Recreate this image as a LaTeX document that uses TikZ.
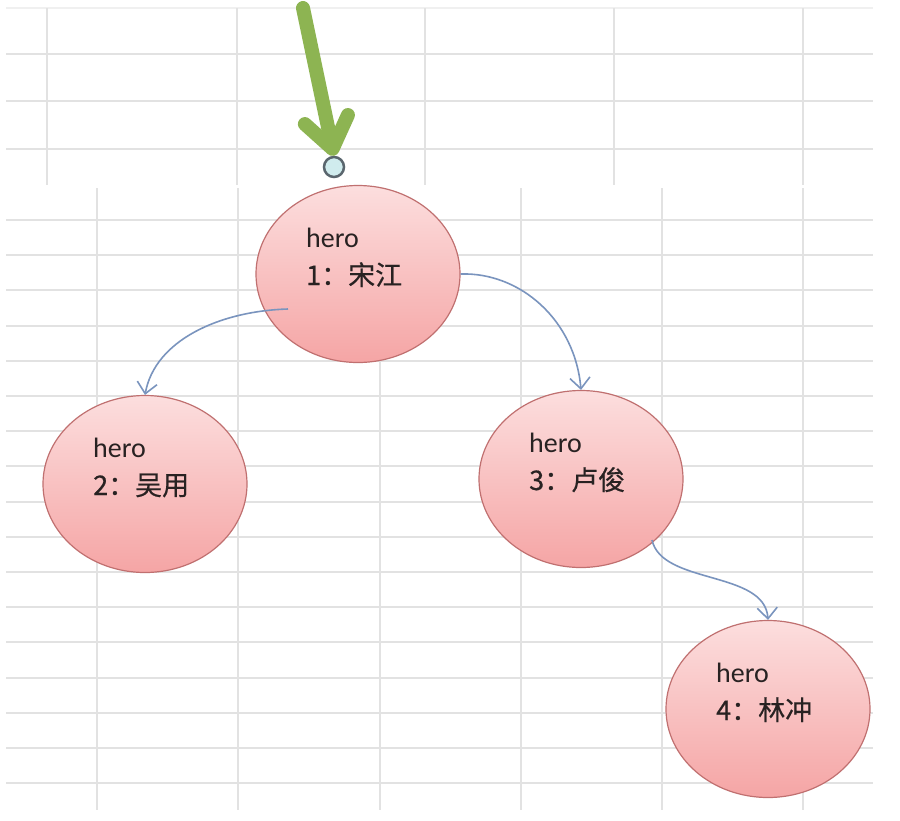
\documentclass[tikz,border=0pt]{standalone}
\usepackage{fontspec}
\setmainfont{Carlito}
\newfontfamily\cjk[FakeBold=0.6]{Noto Sans CJK SC}
\usetikzlibrary{arrows.meta,shapes.geometric}
\definecolor{gridc}{RGB}{226,226,226}
\definecolor{gridtop}{RGB}{240,240,240}
\definecolor{linkc}{RGB}{122,148,190}
\definecolor{greenc}{RGB}{141,180,82}
\definecolor{edgec}{RGB}{192,112,112}
\definecolor{topc}{RGB}{252,222,222}
\definecolor{botc}{RGB}{245,165,165}
\definecolor{txtc}{RGB}{40,34,34}
\definecolor{dotfill}{RGB}{208,236,238}
\definecolor{dotedge}{RGB}{90,102,110}
\tikzset{
  gridline/.style={gridc, line width=2pt},
  heronode/.style={ellipse, draw=edgec, line width=1.2pt, top color=topc, bottom color=botc,
    minimum width=204pt, minimum height=177pt, inner sep=0pt},
  herotxt/.style={anchor=base west, inner sep=0pt, text=txtc, font=\fontsize{28}{30}\selectfont},
  cjktxt/.style={anchor=base west, inner sep=0pt, text=txtc, font=\cjk\fontsize{27}{30}\selectfont},
  link/.style={linkc, line width=1.6pt, -{Straight Barb[length=11pt,width=20pt]}},
  bigarrow/.style={greenc, line width=14pt, line cap=round, -{Straight Barb[length=30pt,width=44pt,round]}},
  dotnode/.style={circle, draw=dotedge, fill=dotfill, line width=2.5pt, minimum size=20pt, inner sep=0pt},
}
\begin{document}
\begin{tikzpicture}[x=1pt,y=-1pt]
\useasboundingbox (0,0) rectangle (900,820);
\fill[white] (0,0) rectangle (900,820);
% upper grid
\draw[gridtop, line width=2pt] (6,8) -- (873,8);
\foreach \y in {54,101,149} \draw[gridline] (6,\y) -- (873,\y);
\foreach \x in {47,237,425,614,803} \draw[gridline] (\x,8) -- (\x,185);
% lower grid
\foreach \k in {0,...,16} \draw[gridline] (6,220+35.2*\k) -- (873,220+35.2*\k);
\foreach \x in {97,238,380,521,662,803} \draw[gridline] (\x,188) -- (\x,810);

% nodes
\node[heronode] (n1) at (358,274) {};
\node[heronode] (n2) at (145,484) {};
\node[heronode] (n3) at (581,479) {};
\node[heronode] (n4) at (768,709) {};

\node[herotxt] (h1) at ([xshift=-52pt,yshift=27pt]n1.center) {hero};
\node[cjktxt] (l1) at ([xshift=-52pt,yshift=-11pt]n1.center) {1：宋江};
\node[herotxt] (h2) at ([xshift=-52pt,yshift=27pt]n2.center) {hero};
\node[cjktxt] (l2) at ([xshift=-52pt,yshift=-11pt]n2.center) {2：吴用};
\node[herotxt] (h3) at ([xshift=-52pt,yshift=27pt]n3.center) {hero};
\node[cjktxt] (l3) at ([xshift=-52pt,yshift=-11pt]n3.center) {3：卢俊};
\node[herotxt] (h4) at ([xshift=-52pt,yshift=27pt]n4.center) {hero};
\node[cjktxt] (l4) at ([xshift=-52pt,yshift=-11pt]n4.center) {4：林冲};

% green entry arrow and dot
\node[dotnode] (c0) at (334,167) {};
\coordinate (g0) at (303,8);
\draw[bigarrow] (g0) -- (c0.north);

% links
\coordinate (s12) at (288,309);
\draw[link] (s12) .. controls (220,311) and (155,340) .. (n2.north);
\draw[link] (n1.east) .. controls (520,272) and (575,320) .. (n3.north);
\coordinate (s34) at (652,540);
\draw[link] (s34) .. controls (662,585) and (765,570) .. (n4.north);
\end{tikzpicture}
\end{document}
